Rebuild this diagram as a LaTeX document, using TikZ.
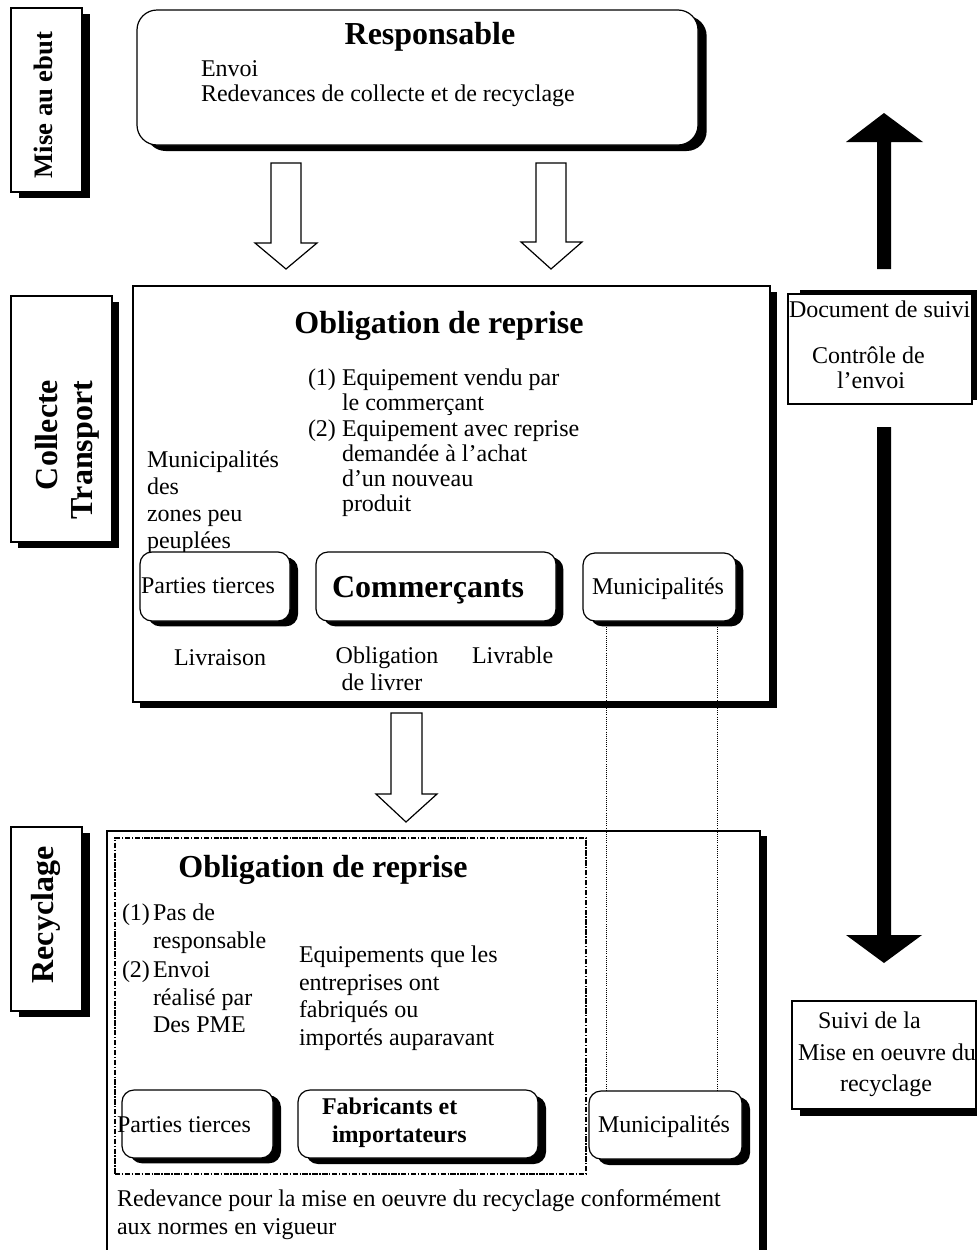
\documentclass[tikz,border=0pt]{standalone}
\usepackage{fontspec}
\setmainfont{Liberation Serif}
\usetikzlibrary{fit,shadows}
\begin{document}
\begin{tikzpicture}[x=0.75pt,y=-0.75pt,
  every node/.style={inner sep=0pt, outer sep=0pt},
  txt/.style={font=\fontsize{18}{20}\selectfont},
  ttl/.style={font=\fontsize{24}{28}\selectfont\bfseries},
  btx/.style={font=\fontsize{18}{20}\selectfont\bfseries},
  lbl/.style={font=\fontsize{24}{28}\selectfont\bfseries, rotate=90, anchor=base},
  sqbox/.style={draw, line width=0.9pt, fill=white, rectangle},
  rbox/.style={draw, line width=0.9pt, fill=white, rectangle, rounded corners=#1},
  shad/.style 2 args={drop shadow={shadow xshift=#1, shadow yshift=#2, opacity=1, fill=black}},
  harrow/.style={draw, line width=0.9pt, fill=white, line join=miter},
  barrow/.style={fill=black},
  dotline/.style={densely dotted, line width=0.6pt},
  dashdotbox/.style={draw, line width=0.8pt, dash pattern=on 4pt off 1.2pt on 1pt off 1.2pt}
]
\clip (0,0) rectangle (977,1250);
\fill[white] (0,0) rectangle (977,1250);

% ---------- side labels ----------
\node[sqbox, shad={6pt}{-4.5pt}, fit={(11,8)(82,192)}] (labA) {};
\node[lbl, font=\fontsize{20}{24}\selectfont\bfseries] (labAt) at (52,105) {Mise au ebut};

\node[sqbox, shad={5.5pt}{-4.5pt}, fit={(11,296)(112,542)}] (labB) {};
\node[lbl] (labBt1) at (57,435) {Collecte};
\node[lbl] (labBt2) at (92,450) {Transport};

\node[sqbox, shad={6pt}{-4.5pt}, fit={(11,827)(82,1011)}] (labC) {};
\node[lbl] (labCt) at (53,915) {Recyclage};

% ---------- Responsable ----------
\node[rbox=15pt, shad={6.5pt}{-4.5pt}, fit={(137,10)(698,145)}] (resp) {};
\node[ttl, anchor=base] (respT) at (430,44) {Responsable};
\node[txt, anchor=base west] (respL1) at (201,76) {Envoi};
\node[txt, anchor=base west] (respL2) at (201,101) {Redevances de collecte et de recyclage};

% hollow arrows responsable -> collecte
\draw[harrow] (271,163) -- (271,243) -- (255,243) -- (286,269) -- (317,243) -- (301,243) -- (301,163) -- cycle;
\draw[harrow] (536,163) -- (536,242) -- (521,242) -- (551,269) -- (582,242) -- (566,242) -- (566,163) -- cycle;

% ---------- Collecte box ----------
\node[sqbox, shad={5.5pt}{-4.5pt}, fit={(133,286)(770,702)}] (coll) {};
\node[ttl, anchor=base] (collT) at (439,333) {Obligation de reprise};
\node[txt, anchor=base west] (c1n) at (308,385) {(1)};
\node[txt, anchor=base west] (c1a) at (342,385) {Equipement vendu par};
\node[txt, anchor=base west] (c1b) at (342,410) {le commerçant};
\node[txt, anchor=base west] (c2n) at (308,436) {(2)};
\node[txt, anchor=base west] (c2a) at (342,436) {Equipement avec reprise};
\node[txt, anchor=base west] (c2b) at (342,461) {demandée à l’achat};
\node[txt, anchor=base west] (c2c) at (342,486) {d’un nouveau};
\node[txt, anchor=base west] (c2d) at (342,511) {produit};

\node[txt, anchor=base west] (m1) at (147,467) {Municipalités};
\node[txt, anchor=base west] (m2) at (147,494) {des};
\node[txt, anchor=base west] (m3) at (147,521) {zones peu};
\node[txt, anchor=base west] (m4) at (147,548) {peuplées};

\node[rbox=9pt, shad={6pt}{-4pt}, fit={(140,552)(290,621)}] (pt1) {};
\node[txt, anchor=base west] (pt1t) at (141,593) {Parties tierces};
\node[rbox=9pt, shad={5.5pt}{-4pt}, fit={(316,552)(556,621)}] (com) {};
\node[ttl, anchor=base] (comt) at (428,597) {Commerçants};
\node[rbox=9pt, shad={5.5pt}{-4pt}, fit={(583,553)(736,621)}] (mun1) {};
\node[txt, anchor=base west] (mun1t) at (592,594) {Municipalités};

\node[txt, anchor=base] (liv) at (220,665) {Livraison};
\node[txt, anchor=base] (obl1) at (387,663) {Obligation};
\node[txt, anchor=base] (obl2) at (382,690) {de livrer};
\node[txt, anchor=base west] (livr) at (472,663) {Livrable};

% hollow arrow collecte -> recyclage
\draw[harrow] (391,713) -- (391,794) -- (376,794) -- (406,822) -- (437,794) -- (422,794) -- (422,713) -- cycle;

% ---------- Recyclage box ----------
\node[sqbox, shad={5.5pt}{-3.8pt}, fit={(107,831)(760,1300)}] (recy) {};
\node[dashdotbox, fit={(115,838)(586,1174)}] (oblbox) {};
\node[ttl, anchor=base] (recT) at (323,877) {Obligation de reprise};
\node[txt, anchor=base west] (r1n) at (122,920) {(1)};
\node[txt, anchor=base west] (r1a) at (153,920) {Pas de};
\node[txt, anchor=base west] (r1b) at (153,948) {responsable};
\node[txt, anchor=base west] (r2n) at (122,977) {(2)};
\node[txt, anchor=base west] (r2a) at (153,977) {Envoi};
\node[txt, anchor=base west] (r2b) at (153,1005) {réalisé par};
\node[txt, anchor=base west] (r2c) at (153,1032) {Des PME};

\node[txt, anchor=base west] (e1) at (299,962) {Equipements que les};
\node[txt, anchor=base west] (e2) at (299,990) {entreprises ont};
\node[txt, anchor=base west] (e3) at (299,1017) {fabriqués ou};
\node[txt, anchor=base west] (e4) at (299,1045) {importés auparavant};

\node[rbox=9pt, shad={6pt}{-4pt}, fit={(122,1090)(273,1158)}] (pt2) {};
\node[txt, anchor=base west] (pt2t) at (117,1132) {Parties tierces};
\node[rbox=9pt, shad={6pt}{-4.5pt}, fit={(298,1090)(538,1158)}] (fab) {};
\node[btx, anchor=base west] (fab1) at (322,1114) {Fabricants et};
\node[btx, anchor=base west] (fab2) at (332,1142) {importateurs};
\node[rbox=9pt, shad={6pt}{-4.5pt}, fit={(589,1091)(742,1159)}] (mun2) {};
\node[txt, anchor=base west] (mun2t) at (598,1132) {Municipalités};

\node[txt, anchor=base west] (red1) at (117,1206) {Redevance pour la mise en oeuvre du recyclage conformément};
\node[txt, anchor=base west] (red2) at (117,1234) {aux normes en vigueur};

% dotted links between municipalities
\coordinate (d1a) at (606,627);
\coordinate (d1b) at (606,1091);
\coordinate (d2a) at (717,627);
\coordinate (d2b) at (717,1091);
\draw[dotline] (d1a) -- (d1b);
\draw[dotline] (d2a) -- (d2b);

% ---------- right column ----------
\node[sqbox, shad={9pt}{3pt}, fit={(788,294)(972,404)}] (doc) {};
\node[txt, anchor=base west] (doc1) at (789,317) {Document de suivi};
\node[txt, anchor=base west] (doc2) at (812,363) {Contrôle de};
\node[txt, anchor=base west] (doc3) at (837,388) {l’envoi};

\node[sqbox, shad={6pt}{-5.2pt}, fit={(792,1001)(976,1109)}] (suivi) {};
\node[txt, anchor=base west] (s1) at (818,1028) {Suivi de la};
\node[txt, anchor=base west] (s2) at (798,1060) {Mise en oeuvre du};
\node[txt, anchor=base west] (s3) at (840,1091) {recyclage};

% thick black arrows
\fill[barrow] (877,269) -- (877,142) -- (846,142) -- (884,113) -- (923,142) -- (891,142) -- (891,269) -- cycle;
\fill[barrow] (877,427) -- (877,935) -- (846,935) -- (884,963) -- (922,935) -- (891,935) -- (891,427) -- cycle;
\end{tikzpicture}
\end{document}
